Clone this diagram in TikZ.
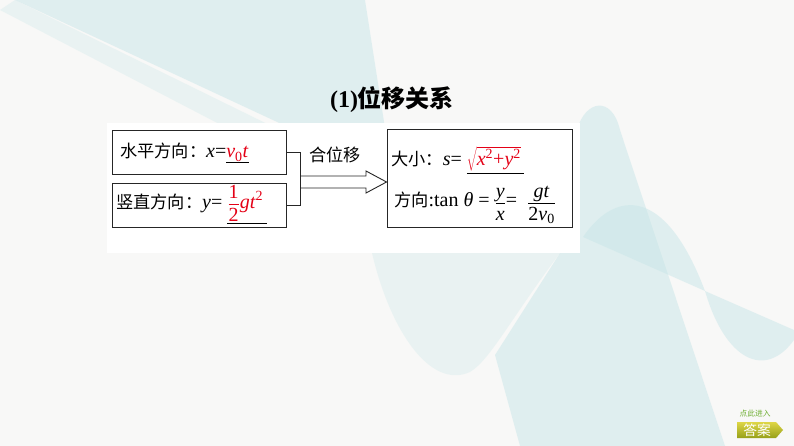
\documentclass[tikz,border=0pt]{standalone}
\usepackage{fontspec}
\setmainfont{Liberation Serif}
\newfontfamily\cjk[Scale=0.86]{Noto Sans CJK SC}
\newfontfamily\cjktitle{Noto Sans CJK SC}
\usetikzlibrary{positioning}
\definecolor{bgbase}{RGB}{248,248,247}
\definecolor{bgteal}{RGB}{200,230,232}
\definecolor{ansred}{RGB}{228,0,22}
\definecolor{btngreen}{RGB}{110,175,50}
\definecolor{btntop}{RGB}{222,214,70}
\definecolor{btnbot}{RGB}{150,160,25}
\newcommand{\vi}[1]{\textit{#1}}
\newcommand{\ans}[1]{\textcolor{ansred}{#1}}
\newcommand{\bigtxt}[1]{\mbox{\fontsize{20}{22}\selectfont #1}}
\newcommand{\tfr}[2]{{\fontsize{14}{16}\selectfont$\displaystyle\frac{\bigtxt{\rule[-2pt]{0pt}{2pt}#1}}{\bigtxt{\rule{0pt}{16pt}#2}}$}}
\tikzset{
  frame/.style={draw=black!85,line width=0.9pt,minimum width=174pt,minimum height=44pt,inner sep=0pt},
  line/.style={font=\fontsize{20}{22}\selectfont,inner sep=0pt,anchor=base west},
  conn/.style={draw=black!85,line width=0.9pt},
  teal/.style={fill=bgteal,fill opacity=0.5,draw=none}
}
\begin{document}
\begin{tikzpicture}[x=1pt,y=-1pt]
	\fill[bgbase] (0,0) rectangle (794,446);
	\fill[teal] (15,0) -- (365,0) -- (385,128) -- (290,128) -- cycle;
	\fill[teal,fill opacity=0.3] (0,10) -- (15,0) -- (300,140) -- (250,140) -- cycle;
	\fill[teal] (560,253) -- (577,130) .. controls (585,100) and (612,95) .. (620,130) -- (725,446) -- (520,446) -- (495,355) -- cycle;
	\fill[teal] (583,237) .. controls (615,190) and (665,185) .. (705,291) -- cycle;
	\fill[teal] (705,291) .. controls (725,360) and (765,380) .. (794,340) -- (794,330) -- cycle;
	\fill[teal,fill opacity=0.3] (372,253) .. controls (390,330) and (430,390) .. (470,372) .. controls (490,360) and (510,320) .. (560,253) -- cycle;
	\fill[white] (107,123) rectangle (580,253);
	\node[font=\fontsize{24}{27}\selectfont\bfseries] (title) at (392,100) {(1){\cjktitle 位移关系}};
	\node[frame] (hbox) at (199,152) {};
	\node[frame] (vbox) at (199,205) {};
	\node[frame,minimum width=185pt,minimum height=98pt] (rbox) at (479.5,178) {};
	\node[line] (htext) at (120,158) {{\cjk 水平方向：}\vi{x}=\underline{\ans{\vi{v}\textsubscript{0}\vi{t}}}};
	\node[line] (vtext) at (116,208) {{\cjk 竖直方向：}\vi{y}= \underline{\ans{\tfr{1}{2}\vi{gt}\textsuperscript{2}}\,}};
	\node[line] (stext) at (391,166) {{\cjk 大小：}\vi{s}= \underline{\ans{$\sqrt{\mbox{\vi{x}\textsuperscript{2}+\vi{y}\textsuperscript{2}}}$}\,}};
	\node[line] (dtext) at (394,207) {{\cjk 方向}:tan \vi{θ} = \tfr{\vi{y}}{\vi{x}}= \ \tfr{\vi{gt}}{2\vi{v}\textsubscript{0}}};
	\node[line] (hewei) at (309,162) {\cjk 合位移};
	\draw[conn] (hbox.east) -- ++(14,0) coordinate (jt) |- (vbox.east);
	\coordinate (tip) at (rbox.west |- 0,182);
	\draw[conn] (jt |- 0,176) -- (366,176) -- (366,171) -- (tip) -- (366,193) -- (366,188) -- (jt |- 0,188);
	\node[font=\fontsize{9}{10}\selectfont\cjk,text=btngreen,inner sep=0pt] (dianci) at (755,414) {点此进入};
	\shade[top color=btntop,bottom color=btnbot] (737,422) -- (776,422) -- (783,430) -- (776,438) -- (737,438) -- cycle;
	\node[font=\fontsize{16}{17}\selectfont\cjk,text=white,inner sep=0pt] (daan) at (757,430) {答案};
\end{tikzpicture}
\end{document}
